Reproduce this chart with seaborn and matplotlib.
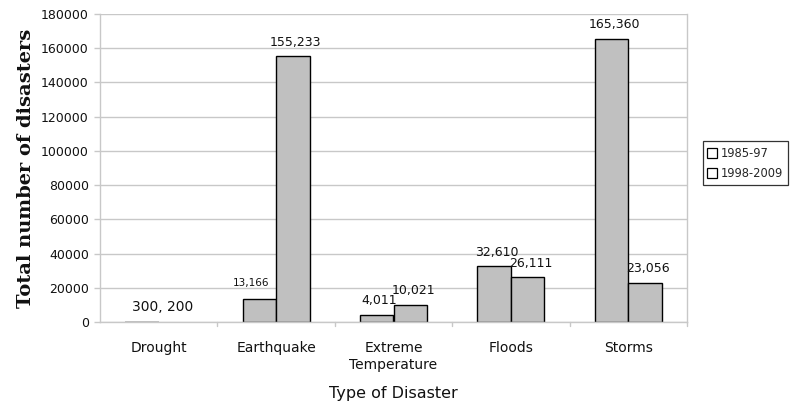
import matplotlib
matplotlib.use("Agg")
import matplotlib.pyplot as plt
from matplotlib.lines import Line2D
import seaborn as sns
import pandas as pd

categories = ["Drought", "Earthquake", "Extreme\nTemperature", "Floods", "Storms"]
periods = ["1985-97", "1998-2009"]
values_1985_97 = [300, 13166, 4011, 32610, 165360]
values_1998_2009 = [200, 155233, 10021, 26111, 23056]
y_ticks = [0, 20000, 40000, 60000, 80000, 100000, 120000, 140000, 160000, 180000]

df = pd.DataFrame({
    "category": categories * 2,
    "period": [periods[0]] * len(categories) + [periods[1]] * len(categories),
    "value": values_1985_97 + values_1998_2009,
})

sns.set_theme(style="white")
plt.rcParams["font.family"] = ["DejaVu Sans"]

fig = plt.figure(figsize=(7.92, 4.05), dpi=100)
ax = fig.add_axes([100 / 792, 83 / 405, 587 / 792, 308 / 405])

sns.barplot(data=df, x="category", y="value", hue="period", order=categories,
            hue_order=periods, palette=["#c0c0c0", "#c0c0c0"], width=0.57,
            edgecolor="black", linewidth=1.0, saturation=1, legend=False, ax=ax)

# bars too short to see at this scale draw no outline
for p in ax.patches:
    if p.get_height() < 1000:
        p.set_edgecolor("none")

ax.set_ylim(0, 180000)
ax.set_xlim(-0.5, len(categories) - 0.5)
ax.set_yticks(y_ticks)
ax.set_yticklabels([str(t) for t in y_ticks], fontsize=9, color="#111111")
ax.yaxis.grid(True, color="#c8c8c8", linewidth=1.0)
ax.set_axisbelow(True)

# category boundary ticks on the x axis
ax.set_xticks(range(len(categories)))
ax.set_xticklabels(categories, fontsize=10, color="#111111", linespacing=1.25)
ax.tick_params(axis="x", length=0, pad=14)
for b in [i + 0.5 for i in range(len(categories))]:
    ax.plot([b, b], [0, -0.012], transform=ax.get_xaxis_transform(),
            color="#c8c8c8", linewidth=1.0, clip_on=False)
ax.tick_params(axis="y", length=4, color="#c8c8c8", width=1.0, left=True, pad=4)

ax.spines["top"].set_visible(False)
for side in ["left", "bottom", "right"]:
    ax.spines[side].set_color("#c8c8c8")
    ax.spines[side].set_linewidth(1.0)

ax.set_xlabel("Type of Disaster", fontsize=11.5, color="#111111", labelpad=10)
ax.set_ylabel("Total number of disasters", fontsize=14, fontweight="bold",
              family=["DejaVu Serif"], color="#111111", labelpad=4)

# value labels above the bars
offsets = {
    (1, 0): (-6, 8, 7.5),
}
n = len(categories)
bars = ax.patches
for j, vals in enumerate([values_1985_97, values_1998_2009]):
    for i, v in enumerate(vals):
        if i == 0:
            continue
        bar = bars[j * n + i]
        cx = bar.get_x() + bar.get_width() / 2
        dx, dy, fs = offsets.get((i, j), (2, 5.5, 9))
        ax.annotate(f"{v:,}", (cx, v), xytext=(dx, dy), textcoords="offset points",
                    ha="center", va="bottom", fontsize=fs, color="#111111")

ax.annotate(f"{values_1985_97[0]}, {values_1998_2009[0]}", (0, 0),
            xytext=(3, 6), textcoords="offset points", ha="center", va="bottom",
            fontsize=10, color="#111111")

handles = [Line2D([0], [0], marker="s", linestyle="none", markersize=6.5,
                  markerfacecolor="white", markeredgecolor="black",
                  markeredgewidth=0.9) for _ in periods]
leg = fig.legend(handles, periods, loc="upper left",
                 bbox_to_anchor=(703 / 792, 1 - 141 / 405), fontsize=8.3,
                 frameon=True, fancybox=False, edgecolor="black",
                 handlelength=0.6, handletextpad=0.4, borderpad=0.5,
                 labelspacing=0.6, borderaxespad=0)
leg.get_frame().set_linewidth(0.9)

fig.savefig("out.png", dpi=100)
